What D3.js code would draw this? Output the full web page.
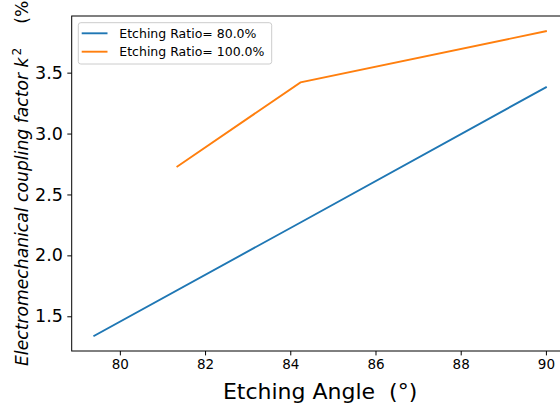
<!DOCTYPE html>
<html><head><meta charset="utf-8">
<script src="https://cdn.jsdelivr.net/npm/d3@7"></script>
<style>body{margin:0;background:#fff}svg{display:block;font-family:"DejaVu Sans",sans-serif}text{white-space:pre}</style>
</head><body>
<script>
const angles80 = [79.4, 84.24, 90];
const k2_80 = [1.34, 2.27, 3.38];
const angles100 = [81.35, 84.24, 90];
const k2_100 = [2.73, 3.42, 3.84];
const seriesNames = ["Etching Ratio= 80.0%", "Etching Ratio= 100.0%"];
const colors = ["#1f77b4", "#ff7f0e"];
const xTicks = [80, 82, 84, 86, 88, 90];
const yTicks = [1.5, 2.0, 2.5, 3.0, 3.5];

const W = 560, H = 405;
const L = 71.7, R = 568.5, T = 16, B = 351;
const svg = d3.select("body").append("svg").attr("width", W).attr("height", H);

const allX = angles80.concat(angles100), allY = k2_80.concat(k2_100);
const xmin = d3.min(allX), xmax = d3.max(allX), ymin = d3.min(allY), ymax = d3.max(allY);
const mx = (xmax - xmin) * 0.05, my = (ymax - ymin) * 0.05;
const x = d3.scaleLinear().domain([xmin - mx, xmax + mx]).range([L, R]);
const y = d3.scaleLinear().domain([ymin - my, ymax + my]).range([B, T]);

const series = [
  {name: seriesNames[0], color: colors[0], pts: angles80.map((a, i) => [a, k2_80[i]])},
  {name: seriesNames[1], color: colors[1], pts: angles100.map((a, i) => [a, k2_100[i]])}
];
const line = d3.line().x(d => x(d[0])).y(d => y(d[1]));
series.forEach(s => {
  svg.append("path").attr("d", line(s.pts)).attr("fill", "none")
    .attr("stroke", s.color).attr("stroke-width", 1.9).attr("stroke-linecap", "square");
});

// axes
const xAxis = d3.axisBottom(x).tickValues(xTicks).tickFormat(d3.format("d")).tickSize(4.4).tickPadding(4.4);
const gx = svg.append("g").attr("transform", `translate(0,${B})`).call(xAxis);
gx.selectAll("text").attr("font-size", 13.5).attr("fill", "#000").attr("font-family", "DejaVu Sans");
gx.select(".domain").remove();
const yAxis = d3.axisLeft(y).tickValues(yTicks).tickFormat(d3.format(".1f")).tickSize(4.4).tickPadding(4.4);
const gy = svg.append("g").attr("transform", `translate(${L},0)`).call(yAxis);
gy.selectAll("text").attr("font-size", 17.5).attr("fill", "#000").attr("font-family", "DejaVu Sans");
gy.select(".domain").remove();
svg.selectAll(".tick line").attr("stroke", "#000").attr("stroke-width", 1);

// spines
svg.append("rect").attr("x", L).attr("y", T).attr("width", R - L).attr("height", B - T)
  .attr("fill", "none").attr("stroke", "#000").attr("stroke-width", 1);

// x label
svg.append("text").attr("x", (L + R) / 2).attr("y", 399).attr("text-anchor", "middle")
  .attr("font-size", 22).text("Etching Angle  (°)");

// y label
const yl = svg.append("text").attr("transform", `translate(28,366) rotate(-90)`)
  .attr("text-anchor", "start").attr("font-size", 17.2);
yl.append("tspan").attr("font-style", "italic").text("Electromechanical coupling factor k");
yl.append("tspan").attr("font-size", 12.2).attr("dx", 2).attr("dy", -7).text("2");
yl.append("tspan").attr("dy", 7).attr("dx", 24).text("(%)");

// legend
const lg = svg.append("g");
lg.append("rect").attr("x", 78.3).attr("y", 22.7).attr("width", 193.4).attr("height", 41.3).attr("rx", 2.5)
  .attr("fill", "#fff").attr("fill-opacity", 0.8).attr("stroke", "#cccccc").attr("stroke-width", 1);
series.forEach((s, i) => {
  const ly = 33.3 + i * 18.4;
  lg.append("line").attr("x1", 81.7).attr("x2", 107.5).attr("y1", ly).attr("y2", ly)
    .attr("stroke", s.color).attr("stroke-width", 1.9);
  lg.append("text").attr("x", 119.3).attr("y", ly).attr("dy", "0.36em").attr("font-size", 12.5).text(s.name);
});
</script>
</body></html>
